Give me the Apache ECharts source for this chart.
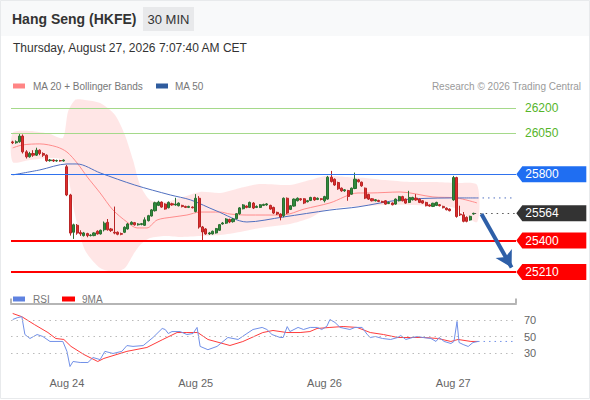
<!DOCTYPE html>
<html><head><meta charset="utf-8">
<script src="https://cdn.jsdelivr.net/npm/echarts@6/dist/echarts.min.js"></script>
<style>html,body{margin:0;padding:0;background:#fff}#c{width:590px;height:400px}</style>
</head><body><div id="c"></div>
<script>
// ---- data ----
const tickIdx = [16, 54, 92, 130];
const tickText = ['Aug 24', 'Aug 25', 'Aug 26', 'Aug 27'];
const opens = [25995,25990,25996,26030,25935,25905,25925,25915,25945,25925,25915,25882,25886,25880,25883,25880,
25845,25675,25450,25492,25448,25430,25442,25430,25430,25456,25440,25465,25510,25470,25450,25450,25442,25450,25470,25498,
25508,25495,25497,25492,25520,25548,25580,25612,25632,25620,25598,25622,25615,25610,25612,25606,25600,25602,
25575,25655,25482,25470,25440,25440,25446,25462,25500,25505,25527,25514,25532,25562,25592,25608,25600,25626,25600,25600,
25612,25615,25612,25600,25570,25560,25550,25655,25588,25608,25640,25652,25652,25634,25642,25660,25648,25652,
25640,25650,25782,25770,25750,25716,25700,25702,25680,25714,25766,25752,25716,25678,25652,25640,25642,25636,25640,25624,
25626,25620,25640,25665,25650,25630,25646,25656,25650,25640,25630,25615,25606,25612,25616,25606,25596,25590,
25645,25780,25560,25555,25540,25524,25560];
const closes = [25990,25996,26030,25935,25905,25925,25915,25945,25925,25915,25882,25886,25880,25883,25880,25885,
25675,25445,25495,25445,25440,25446,25430,25433,25446,25440,25462,25505,25465,25460,25445,25438,25438,25480,25500,25510,
25495,25500,25502,25525,25550,25585,25628,25632,25602,25590,25630,25615,25620,25626,25605,25600,25606,25598,
25655,25482,25452,25440,25446,25456,25472,25496,25506,25530,25512,25530,25562,25597,25615,25600,25630,25596,25606,25616,
25618,25621,25590,25566,25560,25542,25655,25566,25610,25650,25655,25646,25626,25640,25660,25645,25655,25648,
25665,25782,25756,25735,25712,25700,25706,25666,25716,25770,25755,25730,25656,25650,25640,25646,25636,25631,25620,25630,
25616,25650,25665,25640,25626,25660,25660,25645,25630,25626,25610,25608,25625,25630,25610,25598,25586,25580,
25780,25545,25555,25516,25516,25546,25564];
const lows = [25982,25984,25990,25925,25895,25900,25905,25910,25915,25905,25875,25876,25874,25875,25876,25876,
25668,25430,25410,25435,25428,25424,25420,25425,25426,25436,25436,25455,25460,25452,25438,25432,25432,25445,25466,25494,
25490,25490,25492,25488,25515,25545,25575,25608,25598,25586,25594,25610,25610,25606,25600,25596,25596,25594,
25570,25472,25402,25435,25434,25436,25442,25458,25496,25500,25505,25508,25528,25556,25588,25595,25596,25590,25596,25596,
25608,25610,25586,25560,25554,25522,25540,25560,25584,25604,25636,25640,25620,25630,25638,25640,25644,25642,
25630,25646,25750,25730,25706,25694,25694,25640,25676,25710,25750,25724,25650,25645,25636,25636,25632,25627,25616,25620,
25612,25616,25636,25636,25622,25626,25642,25640,25626,25622,25606,25604,25602,25608,25606,25594,25582,25576,
25640,25538,25548,25510,25510,25520,25556];
const highs = [26002,26004,26042,26040,25945,25935,25945,25960,25950,25932,25920,25892,25890,25888,25887,25890,
25856,25682,25502,25500,25462,25452,25447,25438,25450,25462,25466,25515,25530,25476,25605,25455,25448,25486,25506,25516,
25512,25505,25506,25540,25555,25590,25634,25640,25636,25625,25636,25628,25658,25630,25616,25610,25610,25606,
25680,25668,25488,25475,25452,25460,25476,25500,25512,25535,25532,25536,25566,25602,25620,25612,25635,25632,25612,25620,
25622,25626,25616,25604,25574,25564,25660,25660,25614,25654,25660,25656,25656,25645,25664,25664,25660,25656,
25670,25790,25820,25775,25755,25720,25710,25706,25720,25810,25772,25756,25720,25682,25656,25650,25646,25640,25644,25634,
25630,25654,25670,25670,25654,25700,25664,25680,25654,25644,25634,25618,25628,25634,25620,25610,25600,25594,
25790,25785,25610,25572,25546,25550,25568];

const bbIdx   = [0, 5.1, 11, 14.8, 16.3, 18.4, 21.3, 25.8, 30.2, 33.1, 35.5, 37.6, 40.5, 44.9, 49.4, 55.3, 61.2, 67.1, 73, 81.8, 87.7, 92.2, 98.1, 104, 109.9, 117.2, 124.6, 130.5, 137];
const bbUpper = [26049, 26061, 26043, 26019, 26176, 26248, 26248, 26230, 26158, 26037, 25886, 25735, 25645, 25633, 25657, 25693, 25687, 25717, 25741, 25735, 25765, 25790, 25784, 25778, 25765, 25753, 25753, 25747, 25735];
const bbLower = [25874, 25886, 25898, 25886, 25796, 25554, 25343, 25234, 25210, 25234, 25313, 25373, 25415, 25428, 25422, 25428, 25434, 25452, 25476, 25500, 25536, 25584, 25603, 25609, 25615, 25615, 25609, 25597, 25512];

const ma20Idx = [0, 3, 8, 13, 16, 19, 22, 25.8, 29.6, 33.7, 36.7, 39.6, 42.6, 47.3, 51.4, 55.3, 61.2, 64.1, 69.1, 79.8, 86, 93.6, 101.9, 105.4, 114.3, 124, 131, 137];
const ma20Val = [25959, 25977, 25983, 25965, 25934, 25868, 25784, 25687, 25584, 25512, 25476, 25476, 25524, 25542, 25554, 25572, 25572, 25560, 25554, 25554, 25590, 25627, 25687, 25687, 25693, 25663, 25657, 25627];

const ma50Idx = [0, 8, 16, 19, 25.8, 36, 46.5, 52.5, 60, 69.1, 79.8, 93.6, 101.9, 114.3, 129, 137];
const ma50Val = [25796, 25826, 25862, 25862, 25808, 25735, 25675, 25645, 25580, 25512, 25542, 25584, 25603, 25645, 25657, 25657];

const rsiIdx = [0,1.5,2.7,3.6,5.1,7.2,8.9,11,14.8,16,16.9,17.8,19.9,22.2,23.7,25.8,27.2,29.6,32.2,33.7,35.5,38.5,41.4,44.1,45,45.9,47,49.4,51.4,53.2,54.4,55.3,57.6,60.3,63.5,66.5,69.1,70.9,73.6,75,76.5,78.9,79.8,81,81.8,84.2,85.8,87.8,89.9,91.2,92.7,93.6,95.1,96.6,99.5,101,103.1,104.6,105.5,107,109.1,111.5,113.6,114.5,116,118,119.5,121,123.4,124.9,125.8,127.3,129.3,130.2,131.1,131.7,132.9,134.4,135.8,137.3];
const rsiVal = [70.6,73,74,52.4,47.6,52.4,50,44,44,32,13.6,19.7,18.5,18.5,24.5,22,32,29.4,32,39,38,39,48.8,59.7,58.5,53.6,56,56,52.4,53.6,61,38,34,38,48.8,46.4,53.6,58.5,61,58.5,52.4,48.8,48.8,62,56,61,58.5,61,61,58.5,62.4,70.6,67,61,58.5,61,61,52.4,48.8,50,47.6,46.4,48.8,51.2,46.4,48.8,50,48.8,47.6,44,48.8,44,41.5,44,68.2,42.7,40.3,37.9,42.7,44];
const ma9Idx = [0,2.7,6.4,10.4,12.7,15.1,17.2,21,25.1,26.9,33.7,39.6,44.3,48.5,51.4,54.6,57.6,64.1,67.9,73.8,76.8,80.9,84.8,87.7,89.8,93.6,97.5,101.6,105.5,109.4,113.6,117.4,121.2,125.4,129.3,131.4,135.2,137.3];
const ma9Val = [77.9,74,64.5,54.8,47.6,46.4,38,28.2,19.7,23.4,32,36.7,46.4,54.8,54.8,54.8,46.4,39.1,43.9,54.8,57.3,54.8,54.8,56,59.7,61,62.1,61,54.8,52.4,48.8,48.8,48.8,47.6,44,46.4,44,44];

const resistances = [26200, 26050];
const pivot = 25800;
const supports = [25400, 25210];
const lastPrice = 25564;
const rsiLevels = [70, 50, 30];
const arrowFrom = [138.3, 25560];
const arrowTo = [147.2, 25238];
// ---- end data ----

const nSlots = 149;
const slots = Array.from({length: nSlots}, (_, i) => 's' + i);
const candles = opens.map((o, i) => [o, closes[i], lows[i], highs[i]]);
const pairs = (xs, ys) => xs.map((x, k) => [x, ys[k]]);
const lastIdx = opens.length - 1 + 0.3;
const FONT = 'Liberation Sans, Arial, sans-serif';

function tag(price, color) {
  return {
    coord: [148, price],
    symbol: 'path://M0,8L6,0L70,0L70,16L6,16Z',
    symbolSize: [70, 16],
    symbolKeepAspect: false,
    symbolOffset: [37, 0],
    itemStyle: {color: color},
    label: {show: true, position: 'insideLeft', distance: 9, formatter: String(price), color: '#fff', fontSize: 12, fontFamily: FONT}
  };
}
function hline(v, color, width, labelColor) {
  return {
    yAxis: v,
    lineStyle: {color: color, width: width, type: 'solid'},
    label: labelColor ? {show: true, position: 'end', distance: 9, formatter: String(v), color: labelColor, fontSize: 12, fontFamily: FONT} : {show: false}
  };
}

const chart = echarts.init(document.getElementById('c'), null, {renderer: 'svg', width: 590, height: 400});
chart.setOption({
  animation: false,
  textStyle: {fontFamily: FONT},
  grid: [
    {left: 11, width: 505, top: 93, height: 189},
    {left: 11, width: 505, top: 303.5, height: 66}
  ],
  xAxis: [
    {type: 'category', gridIndex: 0, data: slots, boundaryGap: true, show: false},
    {type: 'value', gridIndex: 0, min: -0.5, max: 148.5, show: false},
    {type: 'category', gridIndex: 1, data: slots, boundaryGap: true,
      axisLine: {show: false}, axisTick: {show: false}, splitLine: {show: false},
      axisLabel: {interval: (i) => tickIdx.indexOf(i) >= 0, formatter: (v, i) => tickText[tickIdx.indexOf(i)] || '', color: '#666', fontSize: 11, margin: 8}},
    {type: 'value', gridIndex: 1, min: -0.5, max: 148.5, interval: 149,
      axisLine: {show: true, onZero: false, lineStyle: {color: '#b5b5b5', width: 2}},
      axisTick: {show: true, length: 5, lineStyle: {color: '#b5b5b5', width: 2}},
      axisLabel: {show: false}, splitLine: {show: false}}
  ],
  yAxis: [
    {type: 'value', gridIndex: 0, min: 25150, max: 26290, show: false, splitLine: {show: false}},
    {type: 'value', gridIndex: 1, min: 10, max: 90, show: false, splitLine: {show: false}}
  ],
  graphic: [
    {type: 'rect', silent: true, shape: {x: 0, y: 0, width: 590, height: 36}, style: {fill: '#f8f9fa'}, z: -10},
    {type: 'rect', silent: true, shape: {x: 0.5, y: 0.5, width: 589, height: 398}, style: {fill: 'none', stroke: '#e8eaec', lineWidth: 1}, z: -10},
    {type: 'text', silent: true, x: 12, y: 19, style: {text: 'Hang Seng (HKFE)', font: 'bold 14px ' + FONT, fill: '#333', verticalAlign: 'middle'}},
    {type: 'rect', silent: true, shape: {x: 143, y: 7, width: 51, height: 24}, style: {fill: '#e8e9eb'}},
    {type: 'text', silent: true, x: 168.5, y: 19.5, style: {text: '30 MIN', font: '13px ' + FONT, fill: '#333', align: 'center', verticalAlign: 'middle'}},
    {type: 'text', silent: true, x: 13, y: 48, style: {text: 'Thursday, August 27, 2026 7:07:40 AM CET', font: '12px ' + FONT, fill: '#333', verticalAlign: 'middle'}},
    {type: 'rect', silent: true, shape: {x: 13, y: 83.5, width: 12, height: 5}, style: {fill: '#ff8585'}},
    {type: 'text', silent: true, x: 33, y: 86, style: {text: 'MA 20 + Bollinger Bands', font: '10px ' + FONT, fill: '#777', verticalAlign: 'middle'}},
    {type: 'rect', silent: true, shape: {x: 156, y: 83.5, width: 12, height: 5}, style: {fill: '#2f5c9e'}},
    {type: 'text', silent: true, x: 175, y: 86, style: {text: 'MA 50', font: '10px ' + FONT, fill: '#777', verticalAlign: 'middle'}},
    {type: 'text', silent: true, x: 581, y: 86, style: {text: 'Research \u00a9 2026 Trading Central', font: '10px ' + FONT, fill: '#9a9a9a', align: 'right', verticalAlign: 'middle'}},
    {type: 'rect', silent: true, shape: {x: 13, y: 296.5, width: 12, height: 5}, style: {fill: '#5f82e0'}},
    {type: 'text', silent: true, x: 33, y: 299, style: {text: 'RSI', font: '10px ' + FONT, fill: '#777', verticalAlign: 'middle'}},
    {type: 'rect', silent: true, shape: {x: 62, y: 296.5, width: 13, height: 5}, style: {fill: '#ff0000'}},
    {type: 'text', silent: true, x: 82, y: 299, style: {text: '9MA', font: '10px ' + FONT, fill: '#777', verticalAlign: 'middle'}}
  ],
  series: [
    {name: 'Bollinger', type: 'custom', xAxisIndex: 1, yAxisIndex: 0, silent: true, z: 1,
      data: bbIdx.map((x, k) => [x, bbUpper[k], bbLower[k]]),
      encode: {x: 0, y: [1, 2]},
      renderItem: function (params, api) {
        if (params.dataIndex !== 0) return null;
        const up = bbIdx.map((x, k) => api.coord([x, bbUpper[k]]));
        const lo = bbIdx.map((x, k) => api.coord([x, bbLower[k]])).reverse();
        return {type: 'polygon', shape: {points: up.concat(lo), smooth: 0.25},
          style: {fill: 'rgba(255,165,165,0.28)', stroke: 'none'}};
      }},
    {name: 'MA20', type: 'line', xAxisIndex: 1, yAxisIndex: 0, smooth: 0.3, symbol: 'none', silent: true,
      data: pairs(ma20Idx, ma20Val), lineStyle: {color: '#ff8c8c', width: 1}, z: 2},
    {name: 'MA50', type: 'line', xAxisIndex: 1, yAxisIndex: 0, smooth: 0.3, symbol: 'none', silent: true,
      data: pairs(ma50Idx, ma50Val), lineStyle: {color: '#5070c0', width: 1}, z: 2},
    {name: 'MA50ext', type: 'line', xAxisIndex: 1, yAxisIndex: 0, symbol: 'none', silent: true,
      data: [[ma50Idx[ma50Idx.length - 1], ma50Val[ma50Val.length - 1]], [148.3, ma50Val[ma50Val.length - 1]]],
      lineStyle: {color: '#5070c0', width: 1, type: [1.5, 4]}, z: 2,
      markLine: {silent: true, symbol: 'none', animation: false,
        data: [
          hline(resistances[0], '#a5d98a', 1, '#56b52b'),
          hline(resistances[1], '#a5d98a', 1, '#56b52b'),
          hline(pivot, '#2f72ee', 1, null),
          hline(supports[0], '#ff0000', 2, null),
          hline(supports[1], '#ff0000', 2, null),
          [{coord: [lastIdx, lastPrice], lineStyle: {color: '#555', width: 1, type: [1.5, 4]}, label: {show: false}}, {coord: [148.3, lastPrice]}],
          [{coord: arrowFrom, lineStyle: {color: '#2e5fa8', width: 4, type: 'solid'}, label: {show: false}, symbol: 'none'}, {coord: arrowTo, symbol: 'arrow', symbolSize: [14, 16]}]
        ]},
      markPoint: {silent: true, animation: false,
        data: [tag(pivot, '#1f6ef2'), tag(lastPrice, '#333333'), tag(supports[0], '#ff0000'), tag(supports[1], '#ff0000')]}
    },
    {name: 'Price', type: 'candlestick', xAxisIndex: 0, yAxisIndex: 0, data: candles, barWidth: 2.6, silent: true, z: 3,
      itemStyle: {color: '#2f8a3c', color0: '#e12d2d', borderColor: '#2a6f31', borderColor0: '#b82626', borderWidth: 1}},
    {name: 'RSI', type: 'line', xAxisIndex: 3, yAxisIndex: 1, symbol: 'none', silent: true,
      data: pairs(rsiIdx, rsiVal), lineStyle: {color: '#7190e8', width: 1}, z: 3,
      markLine: {silent: true, symbol: 'none', animation: false,
        data: rsiLevels.map(v => ({yAxis: v, lineStyle: {color: '#bbb', width: 1, type: [1.5, 4]},
          label: {show: true, position: 'end', distance: 8, formatter: String(v), color: '#666', fontSize: 11, fontFamily: FONT}}))}},
    {name: 'RSIext', type: 'line', xAxisIndex: 3, yAxisIndex: 1, symbol: 'none', silent: true,
      data: [[rsiIdx[rsiIdx.length - 1], rsiVal[rsiVal.length - 1]], [148.3, rsiVal[rsiVal.length - 1]]],
      lineStyle: {color: '#7190e8', width: 1, type: [1.5, 4]}, z: 3},
    {name: '9MA', type: 'line', xAxisIndex: 3, yAxisIndex: 1, symbol: 'none', silent: true,
      data: pairs(ma9Idx, ma9Val), lineStyle: {color: '#ff3b3b', width: 1}, z: 2}
  ]
});
</script></body></html>
